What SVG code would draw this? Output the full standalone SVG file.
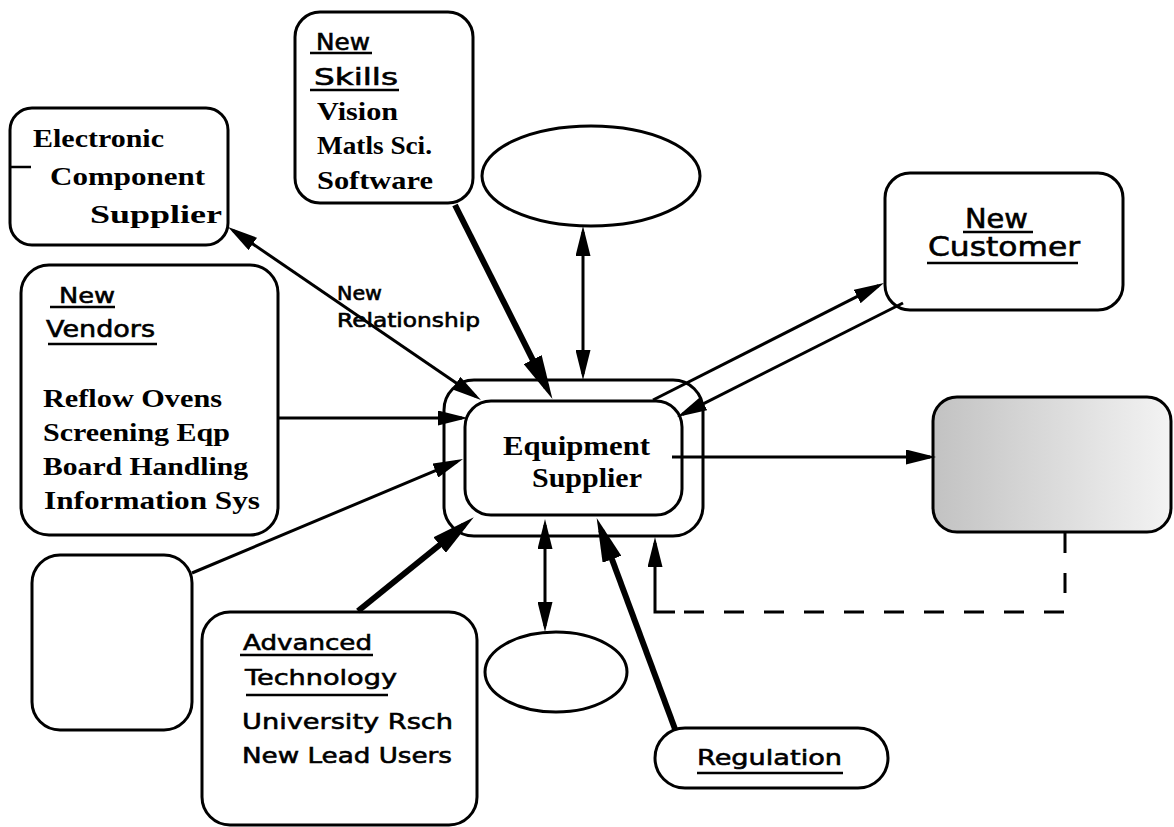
<svg xmlns="http://www.w3.org/2000/svg" width="1174" height="827" viewBox="0 0 1174 827">
  <style>
    .box { fill: #fff; stroke: #000; stroke-width: 3; }
    .ell { fill: #fff; stroke: #000; stroke-width: 3; }
    .thin { fill: none; stroke: #000; stroke-width: 3; }
    .thick { fill: none; stroke: #000; stroke-width: 6; }
    .dash { fill: none; stroke: #000; stroke-width: 3; stroke-dasharray: 20 20; }
    .ul { stroke: #000; stroke-width: 2.5; }
    .serif { font-family: "Liberation Serif", "Times New Roman", serif; font-weight: bold; fill: #000; }
    .sans { font-family: "DejaVu Sans", Verdana, sans-serif; fill: #000; stroke: #000; stroke-width: 0.6; }
  </style>
  <defs>
    <marker id="ah" markerUnits="userSpaceOnUse" viewBox="0 0 30 15" markerWidth="30" markerHeight="15" refX="24" refY="7.5" orient="auto">
      <path d="M0,0 L30,7.5 L0,15 z" fill="#000"/>
    </marker>
    <marker id="ah2" markerUnits="userSpaceOnUse" viewBox="0 0 30 15" markerWidth="30" markerHeight="15" refX="24" refY="7.5" orient="auto-start-reverse">
      <path d="M0,0 L30,7.5 L0,15 z" fill="#000"/>
    </marker>
    <marker id="ahb" markerUnits="userSpaceOnUse" viewBox="0 0 44 20" markerWidth="44" markerHeight="20" refX="31" refY="10" orient="auto">
      <path d="M0,0 L44,10 L0,20 z" fill="#000"/>
    </marker>
    <linearGradient id="shade" x1="0" y1="0" x2="1" y2="0">
      <stop offset="0" stop-color="#c2c2c2"/>
      <stop offset="0.45" stop-color="#d8d8d8"/>
      <stop offset="1" stop-color="#f3f3f3"/>
    </linearGradient>
  </defs>

  <g id="electronic-supplier">
    <rect class="box" x="10" y="108" width="218" height="137" rx="22"/>
    <line class="ul" x1="10" y1="167" x2="31" y2="167"/>
    <text class="serif" font-size="25" x="33" y="147" textLength="131" lengthAdjust="spacingAndGlyphs">Electronic</text>
    <text class="serif" font-size="25" x="50" y="185" textLength="155" lengthAdjust="spacingAndGlyphs">Component</text>
    <text class="serif" font-size="25" x="90" y="223" textLength="132" lengthAdjust="spacingAndGlyphs">Supplier</text>
  </g>

  <g id="new-skills">
    <rect class="box" x="295" y="12" width="178" height="191" rx="25"/>
    <text class="sans" font-size="23" x="316" y="50" textLength="54" lengthAdjust="spacingAndGlyphs">New</text>
    <line class="ul" x1="310" y1="53" x2="372" y2="53"/>
    <text class="sans" font-size="23" x="314" y="85" textLength="84" lengthAdjust="spacingAndGlyphs">Skills</text>
    <line class="ul" x1="310" y1="90" x2="399" y2="90"/>
    <text class="serif" font-size="26" x="317" y="120" textLength="81" lengthAdjust="spacingAndGlyphs">Vision</text>
    <text class="serif" font-size="26" x="317" y="154" textLength="115" lengthAdjust="spacingAndGlyphs">Matls Sci.</text>
    <text class="serif" font-size="26" x="317" y="189" textLength="116" lengthAdjust="spacingAndGlyphs">Software</text>
  </g>

  <g id="top-ellipse">
    <ellipse class="ell" cx="591" cy="176" rx="109" ry="50"/>
  </g>

  <g id="new-customer">
    <rect class="box" x="885" y="173" width="238" height="137" rx="25"/>
    <text class="sans" font-size="27" x="965" y="228" textLength="63" lengthAdjust="spacingAndGlyphs">New</text>
    <line class="ul" x1="963" y1="232" x2="1033" y2="232"/>
    <text class="sans" font-size="27" x="928" y="256" textLength="152" lengthAdjust="spacingAndGlyphs">Customer</text>
    <line class="ul" x1="927" y1="263" x2="1078" y2="263"/>
  </g>

  <g id="new-vendors">
    <rect class="box" x="21" y="265" width="257" height="270" rx="28"/>
    <text class="sans" font-size="22" x="59" y="303" textLength="56" lengthAdjust="spacingAndGlyphs">New</text>
    <line class="ul" x1="50" y1="307" x2="115" y2="307"/>
    <text class="sans" font-size="23" x="46" y="337" textLength="109" lengthAdjust="spacingAndGlyphs">Vendors</text>
    <line class="ul" x1="48" y1="344" x2="157" y2="344"/>
    <text class="serif" font-size="25" x="43" y="407" textLength="179" lengthAdjust="spacingAndGlyphs">Reflow Ovens</text>
    <text class="serif" font-size="25" x="43" y="441" textLength="187" lengthAdjust="spacingAndGlyphs">Screening Eqp</text>
    <text class="serif" font-size="25" x="43" y="475" textLength="205" lengthAdjust="spacingAndGlyphs">Board Handling</text>
    <text class="serif" font-size="25" x="44" y="509" textLength="216" lengthAdjust="spacingAndGlyphs">Information Sys</text>
  </g>

  <g id="equipment-supplier">
    <rect class="box" x="444" y="380" width="259" height="156" rx="30"/>
    <rect class="box" x="465" y="401" width="217" height="114" rx="26"/>
    <text class="serif" font-size="27" x="503" y="455" textLength="147" lengthAdjust="spacingAndGlyphs">Equipment</text>
    <text class="serif" font-size="27" x="532" y="487" textLength="110" lengthAdjust="spacingAndGlyphs">Supplier</text>
  </g>

  <g id="shaded-box">
    <rect x="933" y="397" width="238" height="135" rx="24" fill="url(#shade)" stroke="#000" stroke-width="3"/>
  </g>

  <g id="empty-box">
    <rect class="box" x="32" y="555" width="160" height="175" rx="28"/>
  </g>

  <g id="advanced-technology">
    <rect class="box" x="202" y="612" width="275" height="213" rx="28"/>
    <text class="sans" font-size="22" x="243" y="650" textLength="129" lengthAdjust="spacingAndGlyphs">Advanced</text>
    <line class="ul" x1="240" y1="655" x2="373" y2="655"/>
    <text class="sans" font-size="22" x="245" y="685" textLength="152" lengthAdjust="spacingAndGlyphs">Technology</text>
    <line class="ul" x1="246" y1="695" x2="388" y2="695"/>
    <text class="sans" font-size="22" x="242" y="729" textLength="211" lengthAdjust="spacingAndGlyphs">University Rsch</text>
    <text class="sans" font-size="22" x="242" y="763" textLength="210" lengthAdjust="spacingAndGlyphs">New Lead Users</text>
  </g>

  <g id="bottom-ellipse">
    <ellipse class="ell" cx="556" cy="672" rx="71" ry="40"/>
  </g>

  <g id="regulation">
    <rect class="box" x="655" y="728" width="233" height="60" rx="30"/>
    <text class="sans" font-size="22" x="697" y="765" textLength="145" lengthAdjust="spacingAndGlyphs">Regulation</text>
    <line class="ul" x1="697" y1="773" x2="843" y2="773"/>
  </g>

  <g id="connectors">
    <line class="thin" x1="233" y1="230.4" x2="476" y2="396.6" marker-start="url(#ah2)" marker-end="url(#ah2)"/>
    <line class="thick" x1="455" y1="205" x2="546.6" y2="387.3" marker-end="url(#ahb)"/>
    <line class="thin" x1="583" y1="232" x2="583" y2="374" marker-start="url(#ah2)" marker-end="url(#ah2)"/>
    <line class="thin" x1="653" y1="400" x2="878.6" y2="285.7" marker-end="url(#ah)"/>
    <line class="thin" x1="903" y1="303" x2="682.4" y2="414.3" marker-end="url(#ah)"/>
    <line class="thin" x1="278" y1="418" x2="462" y2="418" marker-end="url(#ah)"/>
    <line class="thin" x1="192" y1="573" x2="457.5" y2="461.3" marker-end="url(#ah)"/>
    <line class="thick" x1="358" y1="611" x2="463.7" y2="525.5" marker-end="url(#ahb)"/>
    <line class="thin" x1="545" y1="525" x2="545" y2="626" marker-start="url(#ah2)" marker-end="url(#ah2)"/>
    <line class="thick" x1="675" y1="729" x2="601.2" y2="530.2" marker-end="url(#ahb)"/>
    <line class="thin" x1="672" y1="457" x2="930" y2="457" marker-end="url(#ah)"/>
    <path class="dash" d="M1065,533 V612 H673"/>
    <path class="thin" d="M675,612 H655 V543" marker-end="url(#ah)"/>
    <text class="sans" font-size="19" x="337" y="300" textLength="45" lengthAdjust="spacingAndGlyphs">New</text>
    <text class="sans" font-size="19" x="337" y="327" textLength="143" lengthAdjust="spacingAndGlyphs">Relationship</text>
  </g>
</svg>
